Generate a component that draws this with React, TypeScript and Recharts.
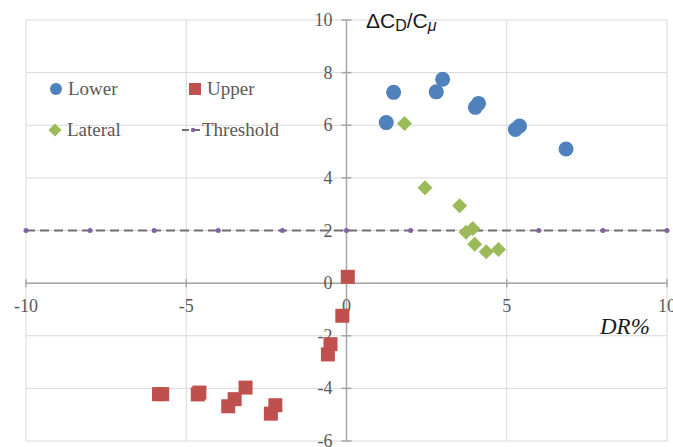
import React from 'react';
import { ScatterChart, Scatter, XAxis, YAxis, CartesianGrid, ReferenceLine } from 'recharts';

const lowerX = [1.24, 1.47, 2.8, 3.0, 4.02, 4.12, 5.27, 5.4, 6.85];
const lowerY = [6.1, 7.25, 7.27, 7.75, 6.68, 6.83, 5.84, 5.97, 5.1];

const upperX = [0.04, -0.13, -0.5, -0.58, -5.85, -5.75, -4.59, -4.64, -3.15, -3.49, -3.69, -2.22, -2.36];
const upperY = [0.24, -1.24, -2.32, -2.71, -4.22, -4.22, -4.16, -4.23, -3.97, -4.41, -4.68, -4.64, -4.96];

const lateralX = [1.81, 2.45, 3.53, 3.94, 3.73, 4.0, 4.36, 4.74];
const lateralY = [6.07, 3.62, 2.94, 2.08, 1.93, 1.48, 1.19, 1.28];

const thresholdX = [-10, -8, -6, -4, -2, 0, 2, 4, 6, 8, 10];
const thresholdY = [2, 2, 2, 2, 2, 2, 2, 2, 2, 2, 2];

const xTicks = [-10, -5, 0, 5, 10];
const yTicks = [-6, -4, -2, 0, 2, 4, 6, 8, 10];

const zip = (xs: number[], ys: number[]) => xs.map((x, i) => ({ x, y: ys[i] }));

const lowerData = zip(lowerX, lowerY);
const upperData = zip(upperX, upperY);
const lateralData = zip(lateralX, lateralY);
const thresholdData = zip(thresholdX, thresholdY);
const xTickData = xTicks.map((v) => ({ x: v, y: 0, label: String(v) }));
const yTickData = yTicks.map((v) => ({ x: 0, y: v, label: String(v) }));

const BLUE = '#4f81bd';
const RED = '#c0504d';
const GREEN = '#9bbb59';
const PURPLE = '#8064a2';
const TEXT = '#595959';
const AXIS = '#a6a6a6';
const FONT = 'Liberation Serif, Times New Roman, serif';

const Circle = (p: any) => <circle cx={p.cx} cy={p.cy} r={7.5} fill={BLUE} />;
const Square = (p: any) => <rect x={p.cx - 7} y={p.cy - 7} width={14} height={14} fill={RED} />;
const Diamond = (p: any) => (
  <path d={`M${p.cx},${p.cy - 7.5} L${p.cx + 7.5},${p.cy} L${p.cx},${p.cy + 7.5} L${p.cx - 7.5},${p.cy} Z`} fill={GREEN} />
);
const Dot = (p: any) => <circle cx={p.cx} cy={p.cy} r={2.5} fill={PURPLE} />;

const XTick = (p: any) => (
  <g>
    <line x1={p.cx} x2={p.cx} y1={p.cy - 4} y2={p.cy + 4} stroke={AXIS} strokeWidth={1.5} />
    <text x={p.cx} y={p.cy + 23} textAnchor="middle" dominantBaseline="central" fill={TEXT} fontSize={18} style={{ fontFamily: FONT }}>
      {p.payload.label}
    </text>
  </g>
);

const YTick = (p: any) => (
  <g>
    <line x1={p.cx - 5} x2={p.cx + 5} y1={p.cy} y2={p.cy} stroke={AXIS} strokeWidth={1.5} />
    <text x={p.cx - 14} y={p.cy} textAnchor="end" dominantBaseline="central" fill={TEXT} fontSize={18} style={{ fontFamily: FONT }}>
      {p.payload.label}
    </text>
  </g>
);

const legendText: React.CSSProperties = {
  position: 'absolute',
  fontFamily: FONT,
  fontSize: 19,
  color: TEXT,
  lineHeight: '20px',
};

export default function App() {
  return (
    <div style={{ position: 'absolute', left: 0, top: 0, width: 673, height: 447, background: '#fff', fontFamily: FONT }}>
      <ScatterChart width={673} height={447} margin={{ top: 20, right: 6, bottom: 6, left: 26 }}>
        <CartesianGrid stroke="#d9d9d9" strokeWidth={1} />
        <XAxis type="number" dataKey="x" domain={[-10, 10]} ticks={xTicks} hide />
        <YAxis type="number" dataKey="y" domain={[-6, 10]} ticks={yTicks} hide />
        <ReferenceLine x={0} stroke={AXIS} strokeWidth={1.5} />
        <ReferenceLine y={0} stroke={AXIS} strokeWidth={1.5} />
        <Scatter data={xTickData} shape={XTick} isAnimationActive={false} />
        <Scatter data={yTickData} shape={YTick} isAnimationActive={false} />
        <Scatter
          data={thresholdData}
          shape={Dot}
          line={{ stroke: '#6f6f6f', strokeWidth: 2, strokeDasharray: '9 5' }}
          isAnimationActive={false}
        />
        <Scatter data={lateralData} shape={Diamond} isAnimationActive={false} />
        <Scatter data={upperData} shape={Square} isAnimationActive={false} />
        <Scatter data={lowerData} shape={Circle} isAnimationActive={false} />
      </ScatterChart>

      <svg style={{ position: 'absolute', left: 0, top: 0 }} width={673} height={447} pointerEvents="none">
        <circle cx={56} cy={89} r={6} fill={BLUE} />
        <rect x={189} y={83} width={12} height={12} fill={RED} />
        <path d="M55,123.5 L61.5,130 L55,136.5 L48.5,130 Z" fill={GREEN} />
        <line x1={182} x2={200} y1={130} y2={130} stroke="#6f6f6f" strokeWidth={2} strokeDasharray="7 4" />
        <circle cx={193} cy={130} r={2.2} fill={PURPLE} />
        <text x={366} y={28} style={{ fontFamily: 'Liberation Sans, Arial, sans-serif' }} fontSize={21} fill="#1a1a1a">
          ΔC<tspan fontSize={16} dy={3}>D</tspan>
          <tspan dy={-3}>/C</tspan>
          <tspan fontSize={16} dy={3} fontStyle="italic">μ</tspan>
        </text>
        <text x={600} y={334} style={{ fontFamily: FONT }} fontSize={23} fontStyle="italic" fill="#1a1a1a">
          DR%
        </text>
      </svg>
      <div style={{ ...legendText, left: 68, top: 79 }}>Lower</div>
      <div style={{ ...legendText, left: 207, top: 79 }}>Upper</div>
      <div style={{ ...legendText, left: 67, top: 120 }}>Lateral</div>
      <div style={{ ...legendText, left: 202, top: 120 }}>Threshold</div>
    </div>
  );
}
